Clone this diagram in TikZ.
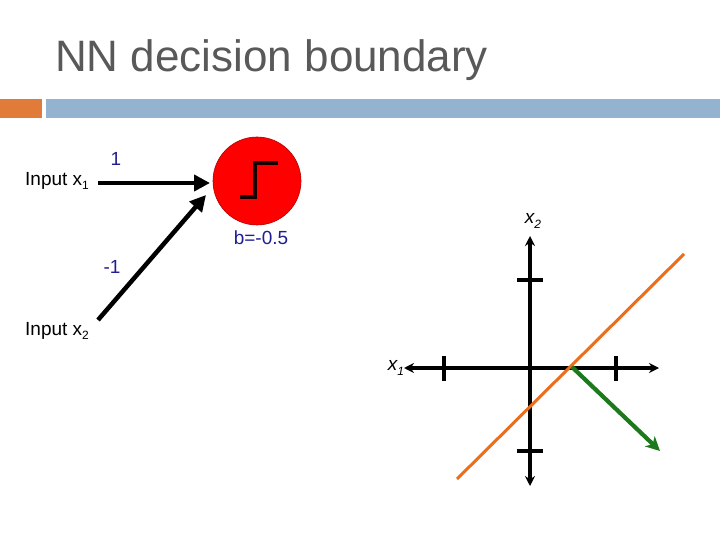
\documentclass[tikz,border=0pt]{standalone}
\usepackage{fontspec}
\setmainfont{Liberation Sans}
\usetikzlibrary{arrows.meta}
\definecolor{titlegray}{HTML}{595959}
\definecolor{barorange}{HTML}{E07B39}
\definecolor{barblue}{HTML}{94B3D1}
\definecolor{lblue}{HTML}{1F1F8F}
\definecolor{bndorange}{HTML}{EA6E1C}
\definecolor{wgreen}{HTML}{1C7A1C}
\newcommand{\lowsub}[1]{\raisebox{-0.45ex}{\fontsize{12}{12}\selectfont #1}}
\tikzset{
  lbl/.style={font=\fontsize{19}{21}\selectfont, inner sep=0pt},
  wlbl/.style={font=\fontsize{19}{21}\selectfont, text=lblue, inner sep=0pt},
  inarrow/.style={line width=4.5pt, -{Triangle[length=16pt,width=16pt]}},
  axis/.style={line width=3.4pt, {Stealth[length=10pt,width=10pt]}-{Stealth[length=10pt,width=10pt]}},
  tick/.style={line width=3.4pt},
}
\begin{document}
\begin{tikzpicture}[x=1pt,y=-1pt]
\useasboundingbox (0,0) rectangle (720,540);
% title
\node[anchor=west, text=titlegray, font=\fontsize{44}{48}\selectfont, inner sep=0pt] (title) at (55,60) {NN decision boundary};
% bars
\fill[barorange] (0,99) rectangle (42,118);
\fill[barblue] (46,99) rectangle (720,118);
% neuron
\node[circle, fill=red, draw=red!70!black, line width=0.6pt, minimum size=88pt, inner sep=0pt] (neuron) at (257,181) {};
\draw[line width=3.5pt, color=black!90!red] (240,197) -- (255,197) -- (255,163) -- (278,163);
\node[wlbl] (bias) at (261,238) {b=-0.5};
% inputs
\node[lbl, anchor=west] (in1) at (25,181) {Input x\lowsub{1}};
\node[lbl, anchor=west] (in2) at (25,331) {Input x\lowsub{2}};
\coordinate (s1) at (98,183);
\coordinate (s2) at (98,320);
\coordinate (e1) at (210,183);
\coordinate (e2) at (206,195);
\draw[inarrow] (s1) -- (e1);
\draw[inarrow] (s2) -- (e2);
\node[wlbl] (w1) at (116,159) {1};
\node[wlbl] (w2) at (112,267) {-1};
% axes
\coordinate (xl) at (404,368);
\coordinate (xr) at (659,368);
\coordinate (yt) at (530,236);
\coordinate (yb) at (530,486);
\draw[axis] (xl) -- (xr);
\draw[axis] (yt) -- (yb);
\draw[tick] (444,356) -- (444,381);
\draw[tick] (616,356) -- (616,381);
\draw[tick] (517,280) -- (543,280);
\draw[tick] (517,451) -- (543,451);
\node[font=\fontsize{19}{21}\selectfont\itshape, inner sep=0pt] (x1lab) at (396,368) {x\lowsub{1}};
\node[font=\fontsize{19}{21}\selectfont\itshape, inner sep=0pt] (x2lab) at (533,221) {x\lowsub{2}};
% boundary
\coordinate (b1) at (457,479);
\coordinate (b2) at (684,254);
\coordinate (cross) at (572,367);
\coordinate (wend) at (660,451);
\draw[bndorange, line width=3pt] (b1) -- (b2);
\draw[wgreen, line width=4.2pt, -{Stealth[length=14pt,width=14pt,inset=4pt]}] (cross) -- (wend);
\end{tikzpicture}
\end{document}
